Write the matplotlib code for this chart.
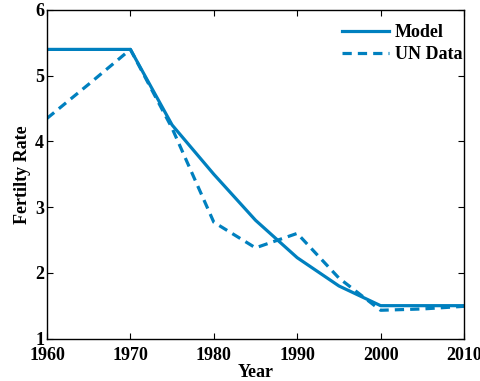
import matplotlib
matplotlib.use("Agg")
import matplotlib.pyplot as plt

years = [1960, 1965, 1970, 1975, 1980, 1985, 1990, 1995, 2000, 2005, 2010]
model = [5.4, 5.4, 5.4, 4.25, 3.5, 2.8, 2.23, 1.8, 1.5, 1.5, 1.5]
un_data = [4.35, 4.87, 5.4, 4.2, 2.77, 2.38, 2.6, 1.92, 1.43, 1.45, 1.49]

plt.rcParams["font.family"] = ["Liberation Serif", "DejaVu Serif"]
plt.rcParams["font.weight"] = "bold"
plt.rcParams["font.size"] = 13

color = "#0080bf"

fig = plt.figure(figsize=(4.81, 3.81), dpi=100)
ax = fig.add_axes([0.0977, 0.1115, 0.8670, 0.8623])

ax.plot(years, model, color=color, lw=2.3, label="Model")
ax.plot(years, un_data, color=color, lw=2.3, ls=(0, (2.9, 1.9)), label="UN Data")

ax.set_xlim(1960, 2010)
ax.set_ylim(1, 6)
ax.set_xticks(range(1960, 2011, 10))
ax.set_yticks(range(1, 7))
ax.tick_params(direction="in", top=True, right=True, length=4, width=0.8)
ax.tick_params(axis="x", pad=6)
ax.tick_params(axis="y", pad=2)
for s in ax.spines.values():
    s.set_linewidth(1.0)

ax.set_xlabel("Year", fontweight="bold", labelpad=0)
ax.set_ylabel("Fertilty Rate", fontweight="bold", labelpad=3)

ax.legend(loc="upper right", bbox_to_anchor=(1.03, 1.0), frameon=False,
          handlelength=2.6, handletextpad=0.3, labelspacing=0.25,
          borderaxespad=0.4, prop={"weight": "bold", "size": 13})

fig.savefig("out.png", dpi=100)
